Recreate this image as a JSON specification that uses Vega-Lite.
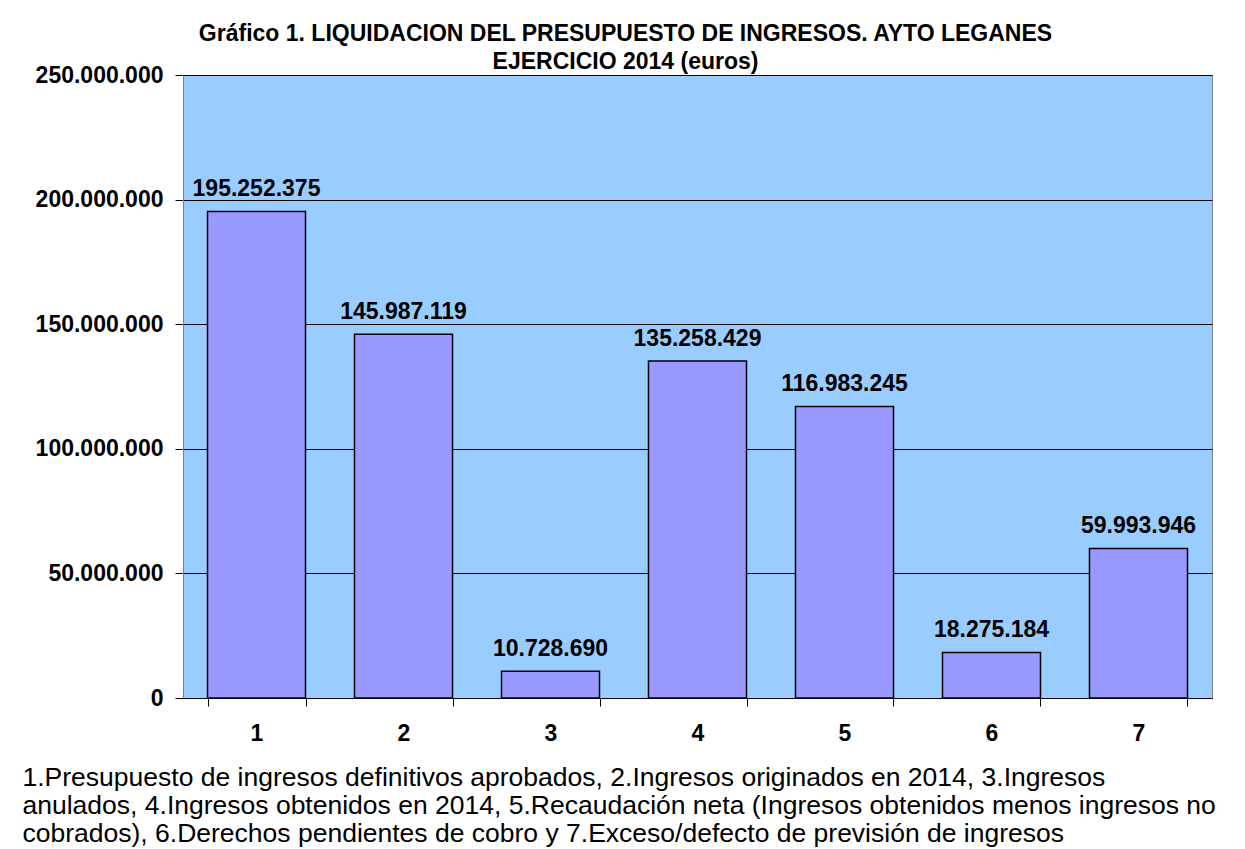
{
  "$schema": "https://vega.github.io/schema/vega-lite/v6.json",
  "autosize": {"type": "none"},
  "width": 1029,
  "height": 623,
  "padding": {"left": 183, "top": 75, "right": 33, "bottom": 151},
  "background": "white",
  "config": {
    "locale": {"number": {"decimal": ",", "thousands": ".", "grouping": [3], "currency": ["", " €"]}},
    "font": "Liberation Sans",
    "view": {"fill": "#99CCFF", "stroke": "#808080", "strokeWidth": 1}
  },
  "title": {
    "text": ["Gráfico 1. LIQUIDACION DEL PRESUPUESTO DE INGRESOS. AYTO LEGANES", "EJERCICIO 2014 (euros)"],
    "font": "Liberation Sans",
    "fontSize": 23,
    "fontWeight": "bold",
    "color": "black",
    "anchor": "middle",
    "dx": -72,
    "baseline": "alphabetic",
    "lineHeight": 28,
    "offset": -28
  },
  "data": {
    "values": [
      {"cat": "1", "valor": 195252375},
      {"cat": "2", "valor": 145987119},
      {"cat": "3", "valor": 10728690},
      {"cat": "4", "valor": 135258429},
      {"cat": "5", "valor": 116983245},
      {"cat": "6", "valor": 18275184},
      {"cat": "7", "valor": 59993946}
    ]
  },
  "encoding": {
    "x": {
      "field": "cat",
      "type": "nominal",
      "sort": null,
      "scale": {"paddingInner": 0.3333, "paddingOuter": 0.1667},
      "axis": {
        "title": [
          "1.Presupuesto de ingresos definitivos aprobados, 2.Ingresos originados en 2014, 3.Ingresos",
          "anulados, 4.Ingresos obtenidos en 2014, 5.Recaudación neta (Ingresos obtenidos menos ingresos no",
          "cobrados), 6.Derechos pendientes de cobro y 7.Exceso/defecto de previsión de ingresos"
        ],
        "titleFont": "Liberation Sans",
        "titleFontSize": 26.5,
        "titleFontWeight": "normal",
        "titleColor": "black",
        "titleAlign": "left",
        "titleAnchor": "start",
        "titleBaseline": "alphabetic",
        "titleX": -161,
        "titleY": 87,
        "titleLineHeight": 28,
        "titleLimit": 3000,
        "labelAngle": 0,
        "labelFont": "Liberation Sans",
        "labelFontSize": 23,
        "labelFontWeight": "bold",
        "labelColor": "black",
        "labelBaseline": "top",
        "labelPadding": 16,
        "tickBand": "extent",
        "tickSize": 8,
        "tickColor": "black",
        "domainColor": "black",
        "grid": false
      }
    },
    "y": {
      "field": "valor",
      "type": "quantitative",
      "scale": {"domain": [0, 250000000], "nice": false},
      "axis": {
        "title": null,
        "values": [0, 50000000, 100000000, 150000000, 200000000, 250000000],
        "format": ",.0f",
        "labelFont": "Liberation Sans",
        "labelFontSize": 23,
        "labelFontWeight": "bold",
        "labelColor": "black",
        "labelPadding": 12,
        "tickSize": 8,
        "tickColor": "black",
        "domainColor": "#808080",
        "grid": true,
        "gridColor": "black",
        "gridWidth": 1,
        "gridOpacity": 1
      }
    }
  },
  "layer": [
    {
      "mark": {"type": "bar", "color": "#9999FF", "stroke": "black", "strokeWidth": 1.5}
    },
    {
      "mark": {"type": "text", "font": "Liberation Sans", "fontSize": 23, "fontWeight": "bold", "color": "black", "baseline": "alphabetic", "dy": -15},
      "encoding": {
        "text": {"field": "valor", "type": "quantitative", "format": ",.0f"}
      }
    }
  ]
}
